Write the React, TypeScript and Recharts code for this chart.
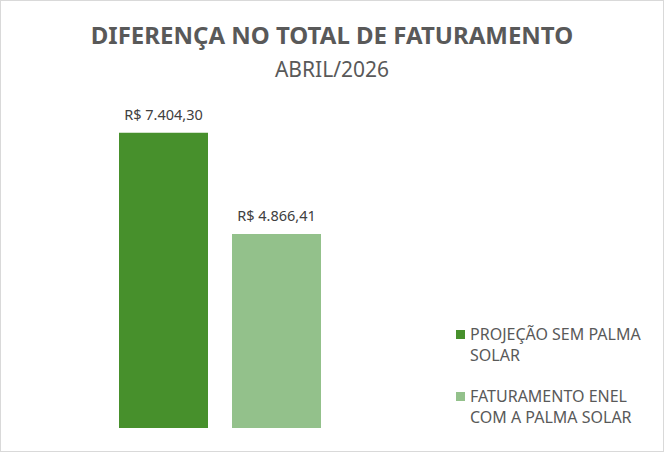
import { BarChart, Bar, XAxis, YAxis, LabelList, Legend } from "recharts";

const categories = ["ABRIL/2026"];
const projecaoValues = [7404.3];
const faturamentoValues = [4866.41];
const seriesNames = ["PROJEÇÃO SEM PALMA SOLAR", "FATURAMENTO ENEL COM A PALMA SOLAR"];
const seriesLines = [
  ["PROJEÇÃO SEM PALMA", "SOLAR"],
  ["FATURAMENTO ENEL", "COM A PALMA SOLAR"],
];
const colors = ["#47902c", "#93c18b"];

const data = categories.map((c, i) => ({
  name: c,
  projecao: projecaoValues[i],
  faturamento: faturamentoValues[i],
}));

const FONT = "'Noto Sans', sans-serif";

const brl = (v: number) =>
  "R$ " +
  v.toLocaleString("pt-BR", { minimumFractionDigits: 2, maximumFractionDigits: 2 });

function LegendContent() {
  return (
    <div
      style={{
        width: 205,
        fontFamily: FONT,
        fontSize: 16,
        color: "#595959",
        lineHeight: "21px",
        textAlign: "left",
      }}
    >
      {seriesLines.map((lines, i) => (
        <div key={i} style={{ display: "flex", marginBottom: 20 }}>
          <span
            style={{
              display: "inline-block",
              width: 9,
              height: 9,
              background: colors[i],
              marginTop: 6,
              marginRight: 5,
              flexShrink: 0,
            }}
          />
          <div>
            {lines.map((l) => (
              <div key={l}>{l}</div>
            ))}
          </div>
        </div>
      ))}
    </div>
  );
}

export default function App() {
  return (
    <div
      style={{
        position: "absolute",
        left: 0,
        top: 0,
        width: 662,
        height: 450,
        border: "1px solid #d9d9d9",
        background: "#fff",
        fontFamily: FONT,
      }}
    >
      <div
        style={{
          position: "absolute",
          top: 17,
          left: 0,
          width: 662,
          textAlign: "center",
          fontSize: 24,
          fontWeight: 700,
          color: "#595959",
        }}
      >
        DIFERENÇA NO TOTAL DE FATURAMENTO
      </div>
      <div
        style={{
          position: "absolute",
          top: 54,
          left: 0,
          width: 662,
          textAlign: "center",
          fontSize: 21,
          color: "#595959",
        }}
      >
        {categories[0]}
      </div>
      <div style={{ position: "absolute", left: -1, top: -1 }}>
        <BarChart
          width={664}
          height={452}
          data={data}
          margin={{ top: 109, right: 244, bottom: 24, left: 20 }}
          barGap={24}
        >
          <XAxis dataKey="name" hide />
          <YAxis hide domain={[0, 8000]} />
          <Legend
            layout="vertical"
            align="right"
            verticalAlign="middle"
            content={<LegendContent />}
            wrapperStyle={{
              left: 456,
              top: 324,
              width: 0,
              height: 0,
              overflow: "visible",
              right: "auto",
              bottom: "auto",
            }}
          />
          <Bar
            dataKey="projecao"
            name={seriesNames[0]}
            fill={colors[0]}
            barSize={89}
            isAnimationActive={false}
          >
            <LabelList
              dataKey="projecao"
              position="top"
              offset={13}
              formatter={(v: number) => brl(v)}
              style={{ fontFamily: FONT, fontSize: 14.5, fill: "#404040" }}
            />
          </Bar>
          <Bar
            dataKey="faturamento"
            name={seriesNames[1]}
            fill={colors[1]}
            barSize={89}
            isAnimationActive={false}
          >
            <LabelList
              dataKey="faturamento"
              position="top"
              offset={13}
              formatter={(v: number) => brl(v)}
              style={{ fontFamily: FONT, fontSize: 14.5, fill: "#404040" }}
            />
          </Bar>
        </BarChart>
      </div>
    </div>
  );
}
